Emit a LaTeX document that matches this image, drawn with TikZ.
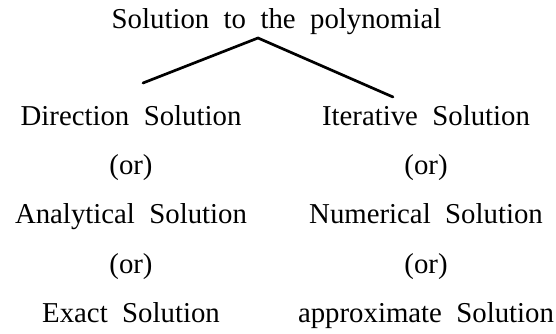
\documentclass[tikz,border=0pt]{standalone}
\usepackage{fontspec}
\setmainfont{Liberation Serif}
\usetikzlibrary{positioning}
\newcommand{\bigtext}{\fontsize{28.8}{32}\selectfont\spaceskip=0.5em\relax}
\tikzset{
  term/.style={font=\bigtext, inner sep=0pt, text height=21pt, text depth=7pt, align=center},
  branch/.style={line width=2.7pt, line cap=round},
}

\begin{document}
\begin{tikzpicture}[x=1pt, y=1pt, node distance=21pt]
    \useasboundingbox (0,0) rectangle (556,-333);
    \node[term] (root) at (276.5,-21) {Solution to the polynomial};

    % left column
    \node[term] (direct) at (131,-118) {Direction Solution};
    \node[term, below=of direct] (orA) {(or)};
    \node[term, below=of orA] (analytic) {Analytical Solution};
    \node[term, below=of analytic] (orB) {(or)};
    \node[term, below=of orB] (exact) {Exact Solution};

    % right column
    \node[term] (iter) at (426,-118) {Iterative Solution};
    \node[term, below=of iter] (orC) {(or)};
    \node[term, below=of orC] (numeric) {Numerical Solution};
    \node[term, below=of numeric] (orD) {(or)};
    \node[term, below=of orD] (approx) {approximate Solution};

    \coordinate (apex) at (258,-38);
    \coordinate (leftend) at (143,-83);
    \coordinate (rightend) at (393,-97);
    \draw[branch] (leftend) -- (apex) -- (rightend);
\end{tikzpicture}
\end{document}
